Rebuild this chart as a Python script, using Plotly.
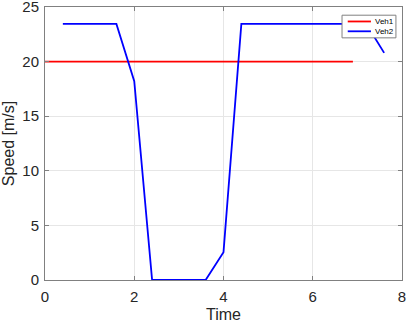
import plotly.graph_objects as go

# Veh1: constant speed
veh1_time = [0.0, 6.9]
veh1_speed = [20.0, 20.0]

# Veh2: brakes to a stop and accelerates again
veh2_time = [0.4, 1.6, 2.0, 2.4, 3.6, 4.0, 4.4, 7.2, 7.6]
veh2_speed = [23.45, 23.45, 18.2, 0.0, 0.0, 2.55, 23.45, 23.45, 20.8]

x_ticks = [0, 2, 4, 6, 8]
y_ticks = [0, 5, 10, 15, 20, 25]

names = ["Veh1", "Veh2"]
colors = ["#ff0000", "#0000ff"]

fig = go.Figure()
fig.add_trace(go.Scatter(x=veh1_time, y=veh1_speed, mode="lines", name=names[0],
                         line=dict(color=colors[0], width=1.8)))
fig.add_trace(go.Scatter(x=veh2_time, y=veh2_speed, mode="lines", name=names[1],
                         line=dict(color=colors[1], width=1.8)))

axis_style = dict(
    showline=True, linecolor="#808080", linewidth=1, mirror="ticks",
    ticks="inside", ticklen=4, tickcolor="#808080",
    showgrid=True, gridcolor="#e6e6e6", gridwidth=1, zeroline=False,
    tickfont=dict(size=15, color="#262626"), automargin=False,
    ticklabeloverflow="allow",
)

fig.update_layout(
    width=407, height=323,
    margin=dict(l=45, r=5, t=7, b=43),
    paper_bgcolor="white", plot_bgcolor="white",
    font=dict(family="Liberation Sans, Arial, sans-serif", color="#262626"),
    xaxis=dict(range=[0, 8], tickvals=x_ticks, ticklabelstandoff=3,
               title=dict(text="Time", font=dict(size=16), standoff=5),
               **axis_style),
    yaxis=dict(range=[0, 25], tickvals=y_ticks, ticklabelstandoff=2,
               title=dict(text="Speed [m/s]", font=dict(size=16), standoff=3),
               **axis_style),
    showlegend=False,
)

# compact MATLAB-style legend box drawn in paper coordinates
x0, x1, y0, y1 = 0.832, 0.983, 0.887, 0.970
fig.add_shape(type="rect", xref="paper", yref="paper", x0=x0, x1=x1, y0=y0, y1=y1,
              line=dict(color="#808080", width=1), fillcolor="white", layer="above")
for i, (name, color) in enumerate(zip(names, colors)):
    yy = 0.947 - i * 0.036
    fig.add_shape(type="line", xref="paper", yref="paper", x0=0.848, x1=0.913,
                  y0=yy, y1=yy, line=dict(color=color, width=1.8), layer="above")
    fig.add_annotation(x=0.918, y=yy, xref="paper", yref="paper", text=name,
                       showarrow=False, xanchor="left", yanchor="middle",
                       font=dict(size=8, color="#000000"))

# drop the default 8px page margin so the figure sits at the window corner
fig.write_html("out.html", config={"displayModeBar": False},
               post_script="document.body.style.margin='0';")
